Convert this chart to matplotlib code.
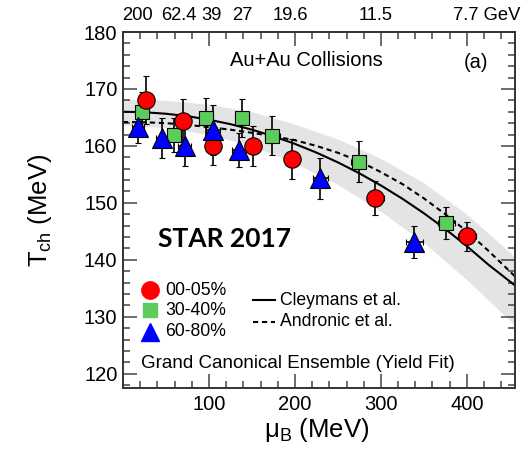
import matplotlib
matplotlib.use("Agg")
import matplotlib.pyplot as plt
from matplotlib.ticker import MultipleLocator

plt.rcParams['font.family'] = ['Liberation Sans', 'DejaVu Sans']
plt.rcParams['mathtext.fontset'] = 'custom'
plt.rcParams['mathtext.rm'] = 'Liberation Sans'
plt.rcParams['mathtext.it'] = 'Liberation Sans:italic'

# Chemical freeze-out temperature vs baryon chemical potential (MeV)
mu_central = [26.7, 69.8, 104.6, 150.7, 196.9, 293.6, 400.0]
t_central = [168.1, 164.3, 160.0, 160.0, 157.7, 150.8, 144.1]
t_central_err = [4.2, 4.0, 3.4, 3.5, 3.5, 3.0, 2.6]
mu_central_err = [8.0, 8.0, 8.0, 8.5, 9.0, 9.5, 10.5]

mu_mid = [21.8, 59.4, 96.2, 138.8, 173.6, 274.2, 376.0]
t_mid = [166.0, 161.9, 164.9, 164.9, 161.8, 157.2, 146.4]
t_mid_err = [3.5, 3.0, 3.6, 3.3, 3.4, 3.6, 2.8]
mu_mid_err = [7.5, 7.5, 8.0, 8.0, 8.5, 9.0, 10.0]

mu_periph = [18.0, 45.9, 71.8, 105.1, 134.9, 229.7, 339.0]
t_periph = [163.3, 161.4, 160.0, 162.8, 159.3, 154.3, 143.2]
t_periph_err = [2.8, 3.5, 3.5, 4.4, 3.0, 3.6, 2.8]
mu_periph_err = [7.0, 7.0, 7.5, 8.0, 8.0, 9.0, 10.0]

# Freeze-out curves and uncertainty band
mu_curve = [0, 25, 50, 75, 100, 125, 150, 175, 200, 225, 250, 275, 300,
            325, 350, 375, 400, 425, 456]
t_cleymans = [166.00, 165.91, 165.65, 165.22, 164.60, 163.82, 162.85, 161.69,
              160.36, 158.83, 157.11, 155.19, 153.06, 150.73, 148.18, 145.41,
              142.40, 139.16, 135.50]
t_andronic = [164.2, 164.15, 164.0, 163.7, 163.3, 162.85, 162.3, 161.7,
              161.0, 160.0, 158.8, 157.3, 155.4, 153.3, 150.8, 148.0,
              145.0, 141.6, 137.1]

mu_band = [0, 50, 100, 150, 200, 250, 300, 350, 400, 456]
band_hi = [168.2, 168.0, 167.3, 166.0, 163.8, 161.2, 157.8, 153.5, 148.0, 140.5]
band_lo = [163.7, 163.2, 162.0, 160.0, 157.0, 153.2, 148.5, 143.0, 136.5, 128.5]

# Collision energies shown along the top edge
energy_labels = ["200", "62.4", "39", "27", "19.6", "11.5"]
energy_mu = [17.3, 65.2, 103.0, 138.8, 194.3, 294.2]

fig = plt.figure(figsize=(5.28, 4.49), dpi=100)
ax = fig.add_axes([123 / 528, 1 - 388 / 449, 392 / 528, 356 / 449])

ax.fill_between(mu_band, band_lo, band_hi, color='#e4e4e4', lw=0, zorder=1)
ax.plot(mu_curve, t_cleymans, color='black', lw=1.5, zorder=2)
ax.plot(mu_curve, t_andronic, color='black', lw=1.5, ls=(0, (2.5, 1.8)), zorder=2)

err_kw = dict(ecolor='black', elinewidth=1.2, capsize=2.5, capthick=1.2,
              linestyle='none', zorder=3)
ax.errorbar(mu_mid, t_mid, yerr=t_mid_err, xerr=mu_mid_err, marker='s',
            ms=10.5, mfc='#5ccc5c', mec='black', mew=0.8, **err_kw)
ax.errorbar(mu_central, t_central, yerr=t_central_err, xerr=mu_central_err,
            marker='o', ms=12.5, mfc='#ff0000', mec='black', mew=0.8, **err_kw)
ax.errorbar(mu_periph, t_periph, yerr=t_periph_err, xerr=mu_periph_err,
            marker='^', ms=14.5, mfc='#0000ff', mec='black', mew=0.8, **err_kw)

ax.set_xlim(0, 456)
ax.set_ylim(117.5, 180)
ax.xaxis.set_major_locator(MultipleLocator(100))
ax.xaxis.set_minor_locator(MultipleLocator(20))
ax.yaxis.set_major_locator(MultipleLocator(10))
ax.yaxis.set_minor_locator(MultipleLocator(2))
ax.tick_params(which='both', direction='in', top=True, right=True,
               color='#444444', width=1.1)
ax.tick_params(which='major', length=10, labelsize=14.5)
ax.tick_params(which='minor', length=5)
ax.tick_params(axis='x', pad=5)
ax.tick_params(axis='y', pad=4)
ax.set_xticks([100, 200, 300, 400])
for s in ax.spines.values():
    s.set_linewidth(1.4)
    s.set_color('#333333')

ax.set_ylabel(r'T$_{\rm ch}$ (MeV)', fontsize=18.5)
ax.yaxis.set_label_coords(-0.175, 0.5)
ax.set_xlabel(r'μ$_{\rm B}$ (MeV)', fontsize=18.5)
ax.xaxis.set_label_coords(0.494, -0.08)

top_tr = matplotlib.transforms.blended_transform_factory(ax.transData, fig.transFigure)
for lab, m in zip(energy_labels, energy_mu):
    ax.text(m, 1 - 15 / 449, lab, transform=top_tr, ha='center', va='center',
            fontsize=13.2, clip_on=False)
ax.text(383.5, 1 - 15 / 449, "7.7 GeV", transform=top_tr, ha='left',
        va='center', fontsize=13.2, clip_on=False)

ax.text(0.469, 0.921, "Au+Au Collisions", transform=ax.transAxes,
        ha='center', va='center', fontsize=14.5)
ax.text(0.9, 0.913, "(a)", transform=ax.transAxes, ha='center', va='center',
        fontsize=14.5)
ax.text(0.26, 0.419, "STAR 2017", transform=ax.transAxes, ha='center',
        va='center', fontsize=19, fontweight='bold', family='Lato')

# Legend keys
keys = [("00-05%", 'o', '#ff0000', 12.5, 0.275),
        ("30-40%", 's', '#5ccc5c', 10, 0.219),
        ("60-80%", '^', '#0000ff', 13.5, 0.158)]
for lab, mk, col, ms, fy in keys:
    ax.plot([0.069], [fy], marker=mk, ms=ms, color=col, mec=col,
            transform=ax.transAxes, clip_on=False)
    ax.text(0.107, fy, lab, transform=ax.transAxes, ha='left', va='center',
            fontsize=12.7)

ax.plot([0.332, 0.388], [0.247, 0.247], color='black', lw=1.5,
        transform=ax.transAxes)
ax.text(0.4, 0.247, "Cleymans et al.", transform=ax.transAxes, ha='left',
        va='center', fontsize=12.7)
ax.plot([0.332, 0.388], [0.186, 0.186], color='black', lw=1.5,
        ls=(0, (2.5, 1.8)), transform=ax.transAxes)
ax.text(0.4, 0.186, "Andronic et al.", transform=ax.transAxes, ha='left',
        va='center', fontsize=12.7)

ax.text(0.045, 0.069, "Grand Canonical Ensemble (Yield Fit)",
        transform=ax.transAxes, ha='left', va='center', fontsize=13.5)

fig.savefig("out.png", dpi=100)
